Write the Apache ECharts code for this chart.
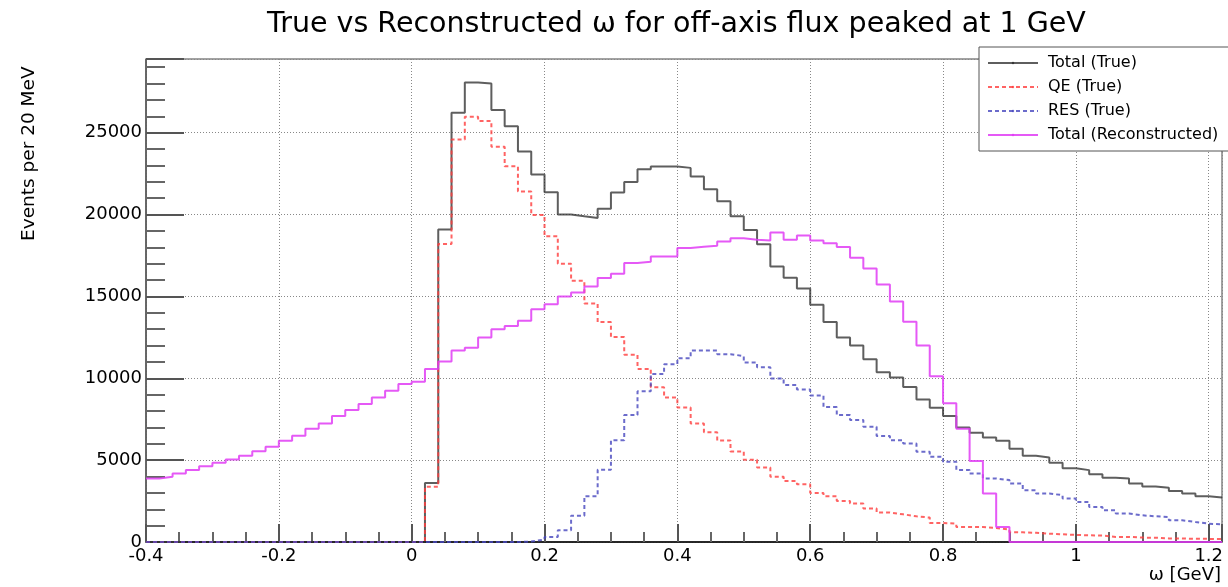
<!DOCTYPE html>
<html>
<head>
<meta charset="utf-8">
<title>True vs Reconstructed omega</title>
<script src="https://cdn.jsdelivr.net/npm/echarts@6/dist/echarts.min.js"></script>
<style>
  html, body { margin: 0; padding: 0; background: #fff; }
  #chart { width: 1228px; height: 587px; }
</style>
</head>
<body>
<div id="chart"></div>
<script>
// histogram binning: 20 MeV bins starting at -0.4 GeV
const binStart = -0.4
const binWidth = 0.02
const xMax = 1.22

// Total (True)
const totalTrue = [
  0, 0, 0, 0, 0, 0, 0, 0, 0, 0, 0, 0, 0, 0, 0, 0, 0, 0, 0, 0, 0,
  3600, 19080, 26220, 28070, 28010, 26380, 25400, 23850, 22440, 21360,
  20000, 19890, 19790, 20360, 21340, 21990, 22770, 22930, 22930, 22850,
  22320, 21540, 20810, 19890, 19060, 18180, 16830, 16140, 15490, 14490,
  13430, 12490, 12000, 11160, 10370, 10040, 9460, 8700, 8200, 7690,
  7000, 6670, 6390, 6180, 5690, 5270, 5160, 4840, 4510, 4390,
  4140, 3920, 3880, 3570, 3390, 3310, 3120, 2960, 2800, 2720
]

// QE (True)
const qeTrue = [
  0, 0, 0, 0, 0, 0, 0, 0, 0, 0, 0, 0, 0, 0, 0, 0, 0, 0, 0, 0, 0,
  3370, 18200, 24580, 25970, 25710, 24140, 22950, 21400, 19970, 18670,
  17000, 15950, 14570, 13430, 12520, 11430, 10570, 9450, 8820, 8220,
  7240, 6710, 6200, 5530, 5020, 4550, 3980, 3720, 3530, 3000,
  2800, 2510, 2350, 2040, 1800, 1690, 1570, 1490, 1160, 1120,
  920, 920, 860, 760, 590, 560, 510, 470, 430, 410,
  390, 310, 310, 270, 260, 220, 210, 200, 190, 180
]

// RES (True)
const resTrue = [
  0, 0, 0, 0, 0, 0, 0, 0, 0, 0, 0, 0, 0, 0, 0, 0, 0, 0, 0, 0, 0,
  0, 0, 0, 0, 0, 0, 0, 30, 150, 310,
  720, 1610, 2800, 4410, 6220, 7750, 9200, 10260, 10860, 11220,
  11690, 11690, 11470, 11360, 10960, 10670, 9980, 9590, 9320, 8950,
  8240, 7750, 7450, 7040, 6470, 6220, 6020, 5510, 5200, 4900,
  4390, 4180, 3880, 3780, 3570, 3160, 2960, 2860, 2650, 2450,
  2140, 1940, 1740, 1630, 1570, 1530, 1330, 1220, 1120, 1080
]

// Total (Reconstructed)
const totalReco = [
  3880, 3980, 4180, 4390, 4630, 4840, 5040, 5270, 5550, 5820,
  6180, 6490, 6920, 7240, 7690, 8060, 8430, 8820, 9240, 9650, 9780,
  10570, 11020, 11690, 11870, 12490, 13000, 13200, 13510, 14220, 14520,
  15000, 15240, 15610, 16130, 16380, 17040, 17120, 17440, 17440, 17950,
  18040, 18100, 18360, 18550, 18460, 18420, 18910, 18460, 18720, 18420,
  18240, 18020, 17360, 16710, 15730, 14690, 13450, 12000, 10120, 8470,
  6920, 4940, 2960, 920, 0, 0, 0, 0, 0, 0,
  0, 0, 0, 0, 0, 0, 0, 0, 0, 0
]

// turn bin contents into [lowEdge, value] points, plus the closing edge
function toSteps(values) {
  const pts = values.map(function(v, i) {
    return [+(binStart + i * binWidth).toFixed(2), v]
  })
  pts.push([xMax, values[values.length - 1]])
  return pts
}

const chart = echarts.init(document.getElementById('chart'))

function histSeries(name, values, color, type) {
  return {
    name: name,
    type: 'line',
    step: 'end',
    symbol: 'none',
    animation: false,
    lineStyle: { color: color, width: 2, type: type },
    itemStyle: { color: color },
    data: toSteps(values)
  }
}

const option = {
  backgroundColor: '#fff',
  animation: false,
  title: {
    text: 'True vs Reconstructed ω for off-axis flux peaked at 1 GeV',
    left: 262,
    top: 5,
    textStyle: { fontFamily: 'DejaVu Sans', fontSize: 28.5, fontWeight: 'normal', color: '#000' }
  },
  legend: {
    orient: 'vertical',
    left: 979,
    top: 47,
    selectedMode: false,
    backgroundColor: '#fff',
    borderColor: '#555',
    borderWidth: 1,
    padding: [7, 12, 7, 8],
    itemWidth: 50,
    itemHeight: 3, // small marker dot like the ROOT legend
    itemGap: 6,
    textStyle: { fontFamily: 'DejaVu Sans', fontSize: 16, color: '#000', lineHeight: 18, padding: [0, 0, 0, 5] },
    data: ['Total (True)', 'QE (True)', 'RES (True)', 'Total (Reconstructed)']
  },
  grid: {
    left: 146,
    right: 6,
    top: 59,
    bottom: 45,
    show: true,
    borderColor: '#444',
    borderWidth: 1
  },
  xAxis: {
    type: 'value',
    min: binStart,
    max: xMax,
    interval: 0.2,
    axisLine: { onZero: false, lineStyle: { color: '#000', width: 1.5 } },
    axisTick: { inside: true, length: 18, lineStyle: { color: '#555', width: 2 } },
    minorTick: { show: true, splitNumber: 4, length: 10, lineStyle: { color: '#666', width: 2 } },
    axisLabel: {
      showMaxLabel: false,
      margin: 5,
      fontFamily: 'DejaVu Sans',
      fontSize: 18,
      color: '#000',
      formatter: function(v) { return String(+v.toFixed(1)) }
    },
    splitLine: { show: true, lineStyle: { color: '#888', type: [1, 2], width: 1 } }
  },
  yAxis: {
    type: 'value',
    min: 0,
    max: 29500,
    interval: 5000,
    axisLine: { show: true, onZero: false, lineStyle: { color: '#555', width: 1.5 } },
    axisTick: { inside: true, length: 38, lineStyle: { color: '#555', width: 2 } },
    minorTick: { show: true, splitNumber: 5, length: 19, lineStyle: { color: '#666', width: 2 } },
    axisLabel: {
      showMaxLabel: false,
      margin: 4,
      fontFamily: 'DejaVu Sans',
      fontSize: 18,
      color: '#000',
      formatter: function(v) { return String(v) }
    },
    splitLine: { show: true, lineStyle: { color: '#888', type: [1, 2], width: 1 } }
  },
  graphic: [
    {
      type: 'text',
      x: 20,
      y: 241,
      rotation: Math.PI / 2,
      style: { text: 'Events per 20 MeV', fontFamily: 'DejaVu Sans', fontSize: 18.5, fill: '#000', textAlign: 'left', textVerticalAlign: 'top' }
    },
    {
      type: 'text',
      x: 1221,
      y: 566,
      style: { text: 'ω [GeV]', fontFamily: 'DejaVu Sans', fontSize: 18, fill: '#000', textAlign: 'right', textVerticalAlign: 'top' }
    }
  ],
  series: [
    histSeries('Total (True)', totalTrue, 'rgba(40,40,40,0.75)', 'solid'),
    histSeries('QE (True)', qeTrue, 'rgba(255,60,60,0.8)', [4, 3]),
    histSeries('RES (True)', resTrue, 'rgba(70,70,190,0.8)', [4, 3]),
    histSeries('Total (Reconstructed)', totalReco, 'rgba(225,60,245,0.85)', 'solid')
  ]
}
chart.setOption(option)
</script>
</body>
</html>
